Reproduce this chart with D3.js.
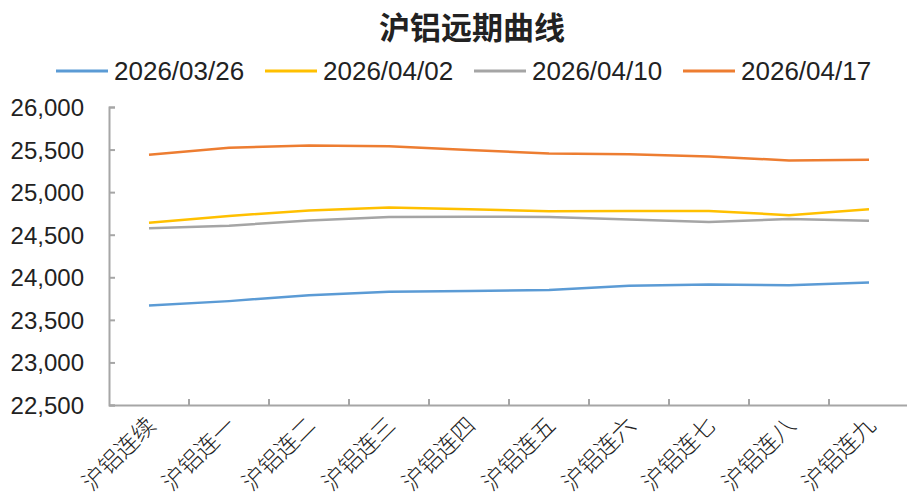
<!DOCTYPE html>
<html>
<head>
<meta charset="utf-8">
<script src="https://cdn.jsdelivr.net/npm/d3@7"></script>
<style>
  body { margin: 0; background: #fff; }
  text { font-family: "Liberation Sans", "Noto Sans CJK SC", sans-serif; fill: #222; }
  .cjk { font-family: "Noto Sans CJK SC", sans-serif; }
</style>
</head>
<body>
<svg id="chart" width="907" height="504"></svg>
<script>
// data
var categories = ["沪铝连续", "沪铝连一", "沪铝连二", "沪铝连三", "沪铝连四", "沪铝连五", "沪铝连六", "沪铝连七", "沪铝连八", "沪铝连九"]
var seriesNames = ["2026/03/26", "2026/04/02", "2026/04/10", "2026/04/17"]
var s0326 = [23670, 23720, 23790, 23830, 23840, 23850, 23900, 23915, 23905, 23940]
var s0402 = [24640, 24720, 24785, 24820, 24800, 24775, 24778, 24778, 24730, 24800]
var s0410 = [24575, 24605, 24668, 24708, 24712, 24708, 24680, 24650, 24685, 24665]
var s0417 = [25440, 25520, 25548, 25538, 25495, 25455, 25445, 25420, 25372, 25380]
var yTicks = [22500, 23000, 23500, 24000, 24500, 25000, 25500, 26000]
var colors = ["#5B9BD5", "#FFC000", "#A5A5A5", "#ED7D31"]

var allSeries = [s0326, s0402, s0410, s0417]

var svg = d3.select("#chart")

var x = d3.scaleBand().domain(categories).range([109, 909])
var y = d3.scaleLinear().domain([22500, 26000]).range([405, 107])

// title
svg.append("text")
  .attr("class", "cjk")
  .attr("x", 472)
  .attr("y", 39)
  .attr("text-anchor", "middle")
  .attr("font-size", "31px")
  .attr("font-weight", "bold")
  .text("沪铝远期曲线")

// legend
var legend = svg.append("g")
seriesNames.forEach(function(name, i){
  var lx = 56 + i*209
  legend.append("line")
    .attr("x1", lx).attr("x2", lx + 52)
    .attr("y1", 71).attr("y2", 71)
    .attr("stroke", colors[i])
    .attr("stroke-width", 3)
  legend.append("text")
    .attr("x", lx + 58)
    .attr("y", 80)
    .attr("font-size", "26px")
    .text(name)
})

// y axis
var yAxis = svg.append("g")
  .attr("transform", "translate(109,0)")
  .call(d3.axisRight(y).tickValues(yTicks).tickSize(6).tickFormat(d3.format(",")))
yAxis.selectAll("text").remove()
yAxis.selectAll("line,path").attr("stroke", "#A6A6A6").attr("stroke-width", 2)

svg.selectAll(".ylab")
  .data(yTicks)
  .enter()
  .append("text")
  .attr("class", "ylab")
  .attr("x", 84)
  .attr("y", function(d){ return y(d) + 9; })
  .attr("text-anchor", "end")
  .attr("font-size", "24px")
  .text(function(d){ return d3.format(",")(d); })

// x axis with ticks at band edges
var xAxis = svg.append("g")
  .attr("transform", "translate(0,405)")
  .call(d3.axisTop(x).tickSize(0).tickFormat(""))
xAxis.select("path").attr("stroke", "#A6A6A6").attr("stroke-width", 2)
xAxis.selectAll(".tick").remove()

svg.selectAll(".xtick")
  .data(categories.slice(1))
  .enter()
  .append("line")
  .attr("class", "xtick")
  .attr("x1", function(d){ return x(d); })
  .attr("x2", function(d){ return x(d); })
  .attr("y1", 405)
  .attr("y2", 399)
  .attr("stroke", "#A6A6A6")
  .attr("stroke-width", 2)

svg.selectAll(".xlab")
  .data(categories)
  .enter()
  .append("text")
  .attr("class", "xlab cjk")
  .attr("font-size", "23px")
  .attr("font-weight", "300")
  .attr("text-anchor", "end")
  .attr("transform", function(d){
    return "translate(" + (x(d) + x.bandwidth()/2 + 8) + ",427) rotate(-45)";
  })
  .text(function(d){ return d; })

// lines
var line = d3.line()
  .x(function(d, i){ return x(categories[i]) + x.bandwidth()/2; })
  .y(function(d){ return y(d); })

svg.selectAll(".series")
  .data(allSeries)
  .enter()
  .append("path")
  .attr("class", "series")
  .attr("fill", "none")
  .attr("stroke", function(d, i){ return colors[i]; })
  .attr("stroke-width", 2.5)
  .attr("d", line)
</script>
</body>
</html>
